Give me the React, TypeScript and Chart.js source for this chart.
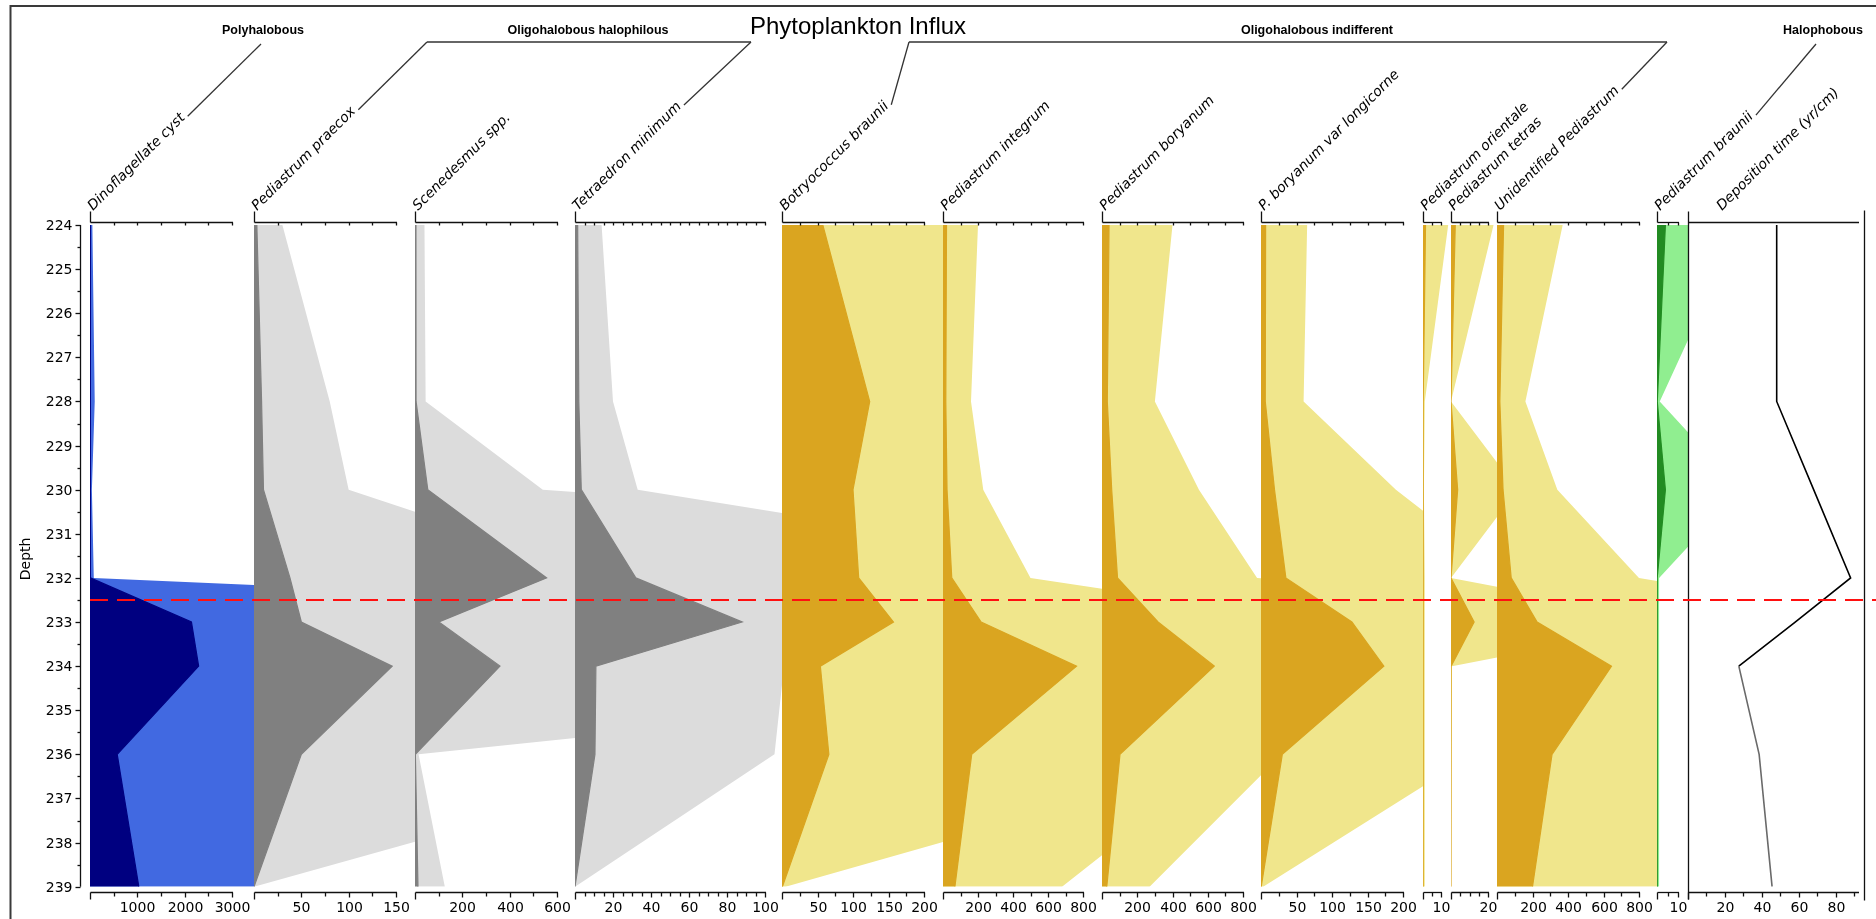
import React, { useEffect, useRef } from 'react';
import { Chart, registerables } from 'chart.js';

Chart.register(...registerables);

// Sample depths shared by every taxon
const depths = [224, 228, 230, 232, 233, 234, 236, 239];

// Influx per taxon at each sample depth
const dinoflagellateCyst = [5, 10, 4, 8, 2143, 2295, 575, 1031];
const pediastrumPraecox = [3, 8, 10, 38, 50, 146, 50, 0];
const scenedesmusSpp = [4, 4.5, 54, 556, 101, 359, 1.5, 12.6];
const tetraedronMinimum = [1.4, 2, 3.3, 32, 88, 11, 10.5, 0];
const botryococcusBraunii = [57.5, 123.5, 100, 108, 157, 54, 66, 0.5];
const pediastrumIntegrum = [20, 16, 23, 50, 218, 763, 164, 68];
const pediastrumBoryanum = [40, 30, 55, 88, 318, 637, 102, 27];
const pBoryanumLongicorne = [6.5, 6, 19, 35, 128, 173, 30, 0.3];
const pediastrumOrientale = [1.4, 0.1, 0.05, 0.1, 0.1, 0.1, 0.1, 0.1];
const pediastrumTetras = [2.3, 0, 3.6, 0, 12.5, 0.05, 0, 0];
const unidentifiedPediastrum = [37, 16, 34, 80, 226, 645, 310, 200];
const pediastrumBraunii = [4, 0.13, 4, 0.1, 0.1, 0.1, 0.1, 0.1];
const depositionTime = [48, 48, 68, 88, 58, 27.5, 38.5, 45.5];

// Depth axis
const depthTickLabels = [224, 225, 226, 227, 228, 229, 230, 231, 232, 233, 234, 235, 236, 237, 238, 239];
const boundaryDepth = 232.5;

const EXAGGERATION = 10;
const DEPTH_MIN = 224;
const DEPTH_MAX = 239;

// Page layout
const PAGE_W = 1876;
const PAGE_H = 919;
const CANVAS_TOP = 200;
const CANVAS_H = PAGE_H - CANVAS_TOP;
const AREA_TOP = 225;
const AREA_BOTTOM = 886.7;
const SIDE = 30;
const LABEL_BASE_Y = 211;
const LABEL_ANGLE = 45;
const LABEL_FONT_PX = 14;
const NUM_FONT = '14px "DejaVu Sans", sans-serif';

const BLUE = { dark: '#000080', light: '#4169E1' };
const GREY = { dark: '#808080', light: '#DCDCDC' };
const GOLD = { dark: '#DAA520', light: '#F0E68C' };
const GREEN = { dark: '#228B22', light: '#90EE90' };

type PanelSpec = {
  label: string;
  values: number[];
  left: number;
  axisEnd: number;
  right: number;
  axisMax: number;
  minorStep: number;
  labelStep: number;
  dark: string;
  light: string;
  curve?: boolean;
  labelX?: number;
};

const panels: PanelSpec[] = [
  { label: 'Dinoflagellate cyst', values: dinoflagellateCyst, left: 90, axisEnd: 232, right: 254, axisMax: 3000, minorStep: 500, labelStep: 1000, ...BLUE },
  { label: 'Pediastrum praecox', values: pediastrumPraecox, left: 254, axisEnd: 396, right: 415, axisMax: 150, minorStep: 25, labelStep: 50, ...GREY },
  { label: 'Scenedesmus spp.', values: scenedesmusSpp, left: 415, axisEnd: 557, right: 575, axisMax: 600, minorStep: 100, labelStep: 200, ...GREY },
  { label: 'Tetraedron minimum', values: tetraedronMinimum, left: 575, axisEnd: 765, right: 782, axisMax: 100, minorStep: 5, labelStep: 20, ...GREY },
  { label: 'Botryococcus braunii', values: botryococcusBraunii, left: 782, axisEnd: 924, right: 943, axisMax: 200, minorStep: 25, labelStep: 50, ...GOLD },
  { label: 'Pediastrum integrum', values: pediastrumIntegrum, left: 943, axisEnd: 1083, right: 1102, axisMax: 800, minorStep: 100, labelStep: 200, ...GOLD },
  { label: 'Pediastrum boryanum', values: pediastrumBoryanum, left: 1102, axisEnd: 1243, right: 1261, axisMax: 800, minorStep: 100, labelStep: 200, ...GOLD },
  { label: 'P. boryanum var longicorne', values: pBoryanumLongicorne, left: 1261, axisEnd: 1403, right: 1423, axisMax: 200, minorStep: 25, labelStep: 50, ...GOLD },
  { label: 'Pediastrum orientale', values: pediastrumOrientale, left: 1423, axisEnd: 1441, right: 1451, axisMax: 10, minorStep: 5, labelStep: 10, ...GOLD },
  { label: 'Pediastrum tetras', values: pediastrumTetras, left: 1451, axisEnd: 1488, right: 1497, axisMax: 20, minorStep: 5, labelStep: 20, ...GOLD },
  { label: 'Unidentified Pediastrum', values: unidentifiedPediastrum, left: 1497, axisEnd: 1639, right: 1657, axisMax: 800, minorStep: 100, labelStep: 200, ...GOLD },
  { label: 'Pediastrum braunii', values: pediastrumBraunii, left: 1657, axisEnd: 1678, right: 1688, axisMax: 10, minorStep: 5, labelStep: 10, ...GREEN },
  { label: 'Deposition time (yr/cm)', values: depositionTime, left: 1688, axisEnd: 1858, right: 1858, axisMax: 92, minorStep: 10, labelStep: 20, dark: '#000', light: '#000', curve: true, labelX: 1722 },
];

type Group = { name: string; cx: number; members: number[]; anchors: number[][]; bracket?: number[] };

const groups: Group[] = [
  { name: 'Polyhalobous', cx: 263, members: [0], anchors: [[261, 44]] },
  { name: 'Oligohalobous halophilous', cx: 588, members: [1, 3], anchors: [[427, 42], [751, 42]], bracket: [427, 751] },
  { name: 'Oligohalobous indifferent', cx: 1317, members: [4, 10], anchors: [[909, 42], [1667, 42]], bracket: [909, 1667] },
  { name: 'Halophobous', cx: 1823, members: [11], anchors: [[1816, 44]] },
];

const crisp = (v: number) => Math.round(v) + 0.5;

function seg(ctx: CanvasRenderingContext2D, x1: number, y1: number, x2: number, y2: number) {
  ctx.beginPath();
  ctx.moveTo(x1, y1);
  ctx.lineTo(x2, y2);
  ctx.stroke();
}

// Top and bottom axes of one taxon panel
function panelAxes(spec: PanelSpec) {
  return {
    id: 'panelAxes',
    afterDraw(chart: any) {
      const { ctx, chartArea } = chart;
      const x = chart.scales.x;
      const x0 = crisp(x.getPixelForValue(0));
      const xEnd = crisp(x.getPixelForValue(spec.axisMax));
      const topY = crisp(chartArea.top - 3);
      const botY = crisp(chartArea.bottom + 5);
      ctx.save();
      ctx.strokeStyle = '#111';
      ctx.lineWidth = 1.3;
      // top axis
      seg(ctx, x0, topY, xEnd + 0.5, topY);
      if (spec.curve) {
        seg(ctx, x0, topY - 11, x0, botY + 7);
        const rx = crisp(chartArea.right + 6);
        seg(ctx, rx, topY - 12, rx, botY + 8);
      } else {
        seg(ctx, x0, topY, x0, topY - 11);
      }
      const n = Math.round(spec.axisMax / spec.minorStep);
      for (let k = 1; k <= n; k++) {
        const v = k * spec.minorStep;
        const px = crisp(x.getPixelForValue(v));
        if (!spec.curve) seg(ctx, px, topY, px, topY + 3);
      }
      // bottom axis
      seg(ctx, x0, botY, xEnd + 0.5, botY);
      seg(ctx, x0, botY, x0, botY + 7);
      ctx.fillStyle = '#000';
      ctx.font = NUM_FONT;
      ctx.textAlign = 'center';
      ctx.textBaseline = 'middle';
      for (let k = 1; k <= n; k++) {
        const v = k * spec.minorStep;
        const px = crisp(x.getPixelForValue(v));
        const labelled = Math.abs(v / spec.labelStep - Math.round(v / spec.labelStep)) < 1e-6;
        seg(ctx, px, botY, px, botY + (labelled ? 5 : 4));
        if (labelled) ctx.fillText(String(v), px, botY + 15.5);
      }
      ctx.restore();
    },
  };
}

function PanelChart({ spec }: { spec: PanelSpec }) {
  const ref = useRef<HTMLCanvasElement>(null);
  const width = spec.right - spec.left + 2 * SIDE;
  useEffect(() => {
    const canvas = ref.current;
    if (!canvas) return;
    const pxPerUnit = (spec.axisEnd - spec.left) / spec.axisMax;
    const xMax = (spec.right - spec.left) / pxPerUnit;
    const points = (k: number) => spec.values.map((v, i) => ({ x: v * k, y: depths[i] }));
    const datasets: any[] = spec.curve
      ? [
          {
            data: points(1),
            borderColor: '#000',
            borderWidth: 1.6,
            fill: false,
            pointRadius: 0,
            segment: { borderColor: (c: any) => (c.p0DataIndex >= 5 ? '#6a6a6a' : '#000') },
          },
        ]
      : [
          { data: points(1), backgroundColor: spec.dark, borderColor: spec.dark, borderWidth: 1.2, fill: 'origin', pointRadius: 0, order: 0 },
          { data: points(EXAGGERATION), backgroundColor: spec.light, borderColor: 'rgba(0,0,0,0)', borderWidth: 0, fill: 'origin', pointRadius: 0, order: 1 },
        ];
    const chart = new Chart(canvas, {
      type: 'line',
      data: { datasets },
      options: {
        indexAxis: 'y',
        animation: false,
        responsive: false,
        maintainAspectRatio: false,
        layout: {
          autoPadding: false,
          padding: { left: SIDE, right: SIDE, top: AREA_TOP - CANVAS_TOP, bottom: CANVAS_H - (AREA_BOTTOM - CANVAS_TOP) },
        },
        elements: { line: { tension: 0 }, point: { radius: 0 } },
        scales: {
          x: { type: 'linear', min: 0, max: xMax, display: false },
          y: { type: 'linear', min: DEPTH_MIN, max: DEPTH_MAX, reverse: true, display: false },
        },
        plugins: { legend: { display: false }, tooltip: { enabled: false }, title: { display: false } },
      } as any,
      plugins: [panelAxes(spec)],
    });
    return () => chart.destroy();
  }, [spec]);
  return (
    <canvas
      ref={ref}
      width={width}
      height={CANVAS_H}
      style={{ position: 'absolute', left: spec.left - SIDE, top: CANVAS_TOP, width, height: CANVAS_H }}
    />
  );
}

// Depth axis on the left plus the dashed boundary across all panels
const depthAxis = {
  id: 'depthAxis',
  afterDraw(chart: any) {
    const { ctx, chartArea } = chart;
    const y = chart.scales.y;
    const ax = crisp(chartArea.left - 10);
    ctx.save();
    ctx.strokeStyle = '#111';
    ctx.lineWidth = 1.3;
    seg(ctx, ax, y.getPixelForValue(DEPTH_MIN), ax, y.getPixelForValue(DEPTH_MAX));
    ctx.fillStyle = '#000';
    ctx.font = NUM_FONT;
    ctx.textAlign = 'right';
    ctx.textBaseline = 'middle';
    depthTickLabels.forEach((d) => {
      const py = crisp(y.getPixelForValue(d));
      seg(ctx, ax - 5, py, ax, py);
      ctx.fillText(String(d), ax - 8, py + 0.5);
      if (d < DEPTH_MAX) {
        const ph = crisp(y.getPixelForValue(d + 0.5));
        seg(ctx, ax - 3, ph, ax, ph);
      }
    });
    ctx.translate(26, y.getPixelForValue((DEPTH_MIN + DEPTH_MAX) / 2) + 3);
    ctx.rotate(-Math.PI / 2);
    ctx.textAlign = 'center';
    ctx.fillText('Depth', 0, 0);
    ctx.restore();
  },
};

function DepthOverlay() {
  const ref = useRef<HTMLCanvasElement>(null);
  useEffect(() => {
    const canvas = ref.current;
    if (!canvas) return;
    const chart = new Chart(canvas, {
      type: 'line',
      data: {
        datasets: [
          {
            data: [
              { x: 0, y: boundaryDepth },
              { x: 1, y: boundaryDepth },
            ],
            borderColor: '#FF1010',
            borderWidth: 2,
            borderDash: [18, 9],
            fill: false,
            pointRadius: 0,
          },
        ],
      },
      options: {
        animation: false,
        responsive: false,
        maintainAspectRatio: false,
        layout: {
          autoPadding: false,
          padding: { left: 90, right: 0, top: AREA_TOP - CANVAS_TOP, bottom: CANVAS_H - (AREA_BOTTOM - CANVAS_TOP) },
        },
        scales: {
          x: { type: 'linear', min: 0, max: 1, display: false },
          y: { type: 'linear', min: DEPTH_MIN, max: DEPTH_MAX, reverse: true, display: false },
        },
        plugins: { legend: { display: false }, tooltip: { enabled: false } },
      } as any,
      plugins: [depthAxis],
    });
    return () => chart.destroy();
  }, []);
  return (
    <canvas
      ref={ref}
      width={PAGE_W}
      height={CANVAS_H}
      style={{ position: 'absolute', left: 0, top: CANVAS_TOP, width: PAGE_W, height: CANVAS_H, pointerEvents: 'none' }}
    />
  );
}

let measureCtx: CanvasRenderingContext2D | null = null;
function textWidth(text: string, font: string) {
  if (!measureCtx) measureCtx = document.createElement('canvas').getContext('2d');
  if (!measureCtx) return text.length * 8;
  measureCtx.font = font;
  return measureCtx.measureText(text).width;
}

function Header() {
  const rad = (LABEL_ANGLE * Math.PI) / 180;
  const labelFont = `italic ${LABEL_FONT_PX}px "DejaVu Sans"`;
  const labels = panels.map((p) => {
    const sx = p.labelX ?? p.left + 3;
    const sy = LABEL_BASE_Y;
    const len = textWidth(p.label, labelFont);
    return { text: p.label, sx, sy, ex: sx + (len + 3) * Math.cos(rad), ey: sy - (len + 3) * Math.sin(rad) };
  });
  return (
    <svg width={PAGE_W} height={PAGE_H} style={{ position: 'absolute', left: 0, top: 0, pointerEvents: 'none' }}>
      <line x1={10.5} y1={6} x2={PAGE_W} y2={6} stroke="#3a3a3a" strokeWidth={2} />
      <line x1={10.5} y1={5} x2={10.5} y2={PAGE_H} stroke="#3a3a3a" strokeWidth={2} />
      <text x={858} y={34} textAnchor="middle" fontFamily="'Liberation Sans', Arial, sans-serif" fontSize={24} fill="#000">
        Phytoplankton Influx
      </text>
      {groups.map((g) => (
        <g key={g.name}>
          <text x={g.cx} y={34} textAnchor="middle" fontFamily="'Liberation Sans', Arial, sans-serif" fontWeight="bold" fontSize={12.5} fill="#000">
            {g.name}
          </text>
          {g.bracket && <line x1={g.bracket[0]} y1={42} x2={g.bracket[1]} y2={42} stroke="#333" strokeWidth={1.3} />}
          {g.members.map((m, i) => (
            <line key={m} x1={labels[m].ex} y1={labels[m].ey} x2={g.anchors[i][0]} y2={g.anchors[i][1]} stroke="#333" strokeWidth={1.3} />
          ))}
        </g>
      ))}
      {labels.map((l) => (
        <text
          key={l.text}
          x={l.sx}
          y={l.sy}
          transform={`rotate(${-LABEL_ANGLE} ${l.sx} ${l.sy})`}
          fontFamily="'DejaVu Sans', sans-serif"
          fontStyle="italic"
          fontSize={LABEL_FONT_PX}
          fill="#000"
        >
          {l.text}
        </text>
      ))}
    </svg>
  );
}

export default function App() {
  return (
    <div style={{ position: 'absolute', left: 0, top: 0, width: PAGE_W, height: PAGE_H, overflow: 'hidden', background: '#fff' }}>
      {panels.map((p) => (
        <PanelChart key={p.label} spec={p} />
      ))}
      <DepthOverlay />
      <Header />
    </div>
  );
}
